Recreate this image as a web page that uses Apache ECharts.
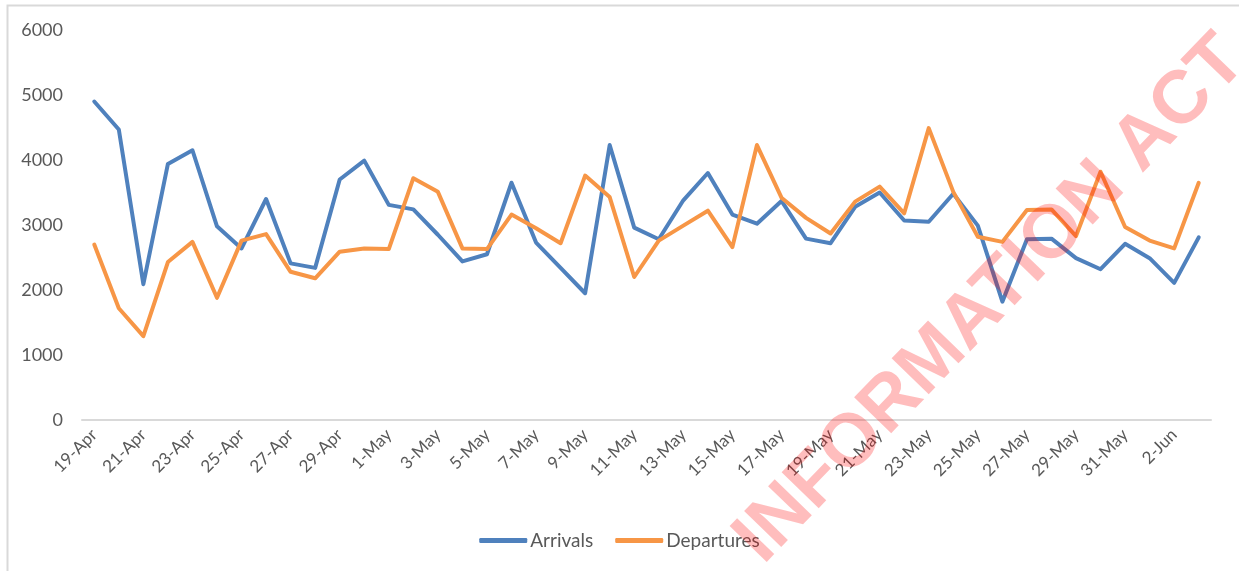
<!DOCTYPE html>
<html>
<head>
<meta charset="utf-8">
<script src="https://cdn.jsdelivr.net/npm/echarts@6/dist/echarts.min.js"></script>
<style>
  html, body { margin: 0; padding: 0; background: #fff; }
  #chart { width: 1239px; height: 571px; }
</style>
</head>
<body>
<div id="chart"></div>
<script>
// dates, 19-Apr .. 3-Jun
var days = [
  '19-Apr', '20-Apr', '21-Apr', '22-Apr', '23-Apr', '24-Apr', '25-Apr', '26-Apr',
  '27-Apr', '28-Apr', '29-Apr', '30-Apr', '1-May', '2-May', '3-May', '4-May',
  '5-May', '6-May', '7-May', '8-May', '9-May', '10-May', '11-May', '12-May',
  '13-May', '14-May', '15-May', '16-May', '17-May', '18-May', '19-May', '20-May',
  '21-May', '22-May', '23-May', '24-May', '25-May', '26-May', '27-May', '28-May',
  '29-May', '30-May', '31-May', '1-Jun', '2-Jun', '3-Jun'
]
var arrivals = [
  4900, 4470, 2090, 3940, 4150, 2980, 2640, 3400,
  2410, 2340, 3700, 3990, 3310, 3240, 2850, 2440,
  2550, 3650, 2730, 2340, 1950, 4230, 2960, 2780,
  3380, 3800, 3160, 3020, 3370, 2790, 2720, 3280,
  3500, 3070, 3050, 3480, 2990, 1820, 2780, 2790,
  2490, 2320, 2710, 2490, 2110, 2810
]
var departures = [
  2700, 1720, 1290, 2430, 2740, 1880, 2760, 2860,
  2280, 2180, 2590, 2640, 2630, 3720, 3510, 2640,
  2630, 3160, 2950, 2720, 3760, 3430, 2200, 2760,
  2990, 3220, 2660, 4230, 3420, 3110, 2870, 3360,
  3590, 3180, 4490, 3510, 2820, 2740, 3230, 3240,
  2830, 3820, 2970, 2760, 2640, 3650
]
var yTicks = [0, 1000, 2000, 3000, 4000, 5000, 6000]

var font = 'Lato'
var chart = echarts.init(document.getElementById('chart'))
var option = {
  animation: false,
  textStyle: { fontFamily: font },
  grid: { left: 82, right: 28, top: 30, bottom: 151 },
  legend: {
    data: ['Arrivals', 'Departures'],
    bottom: 16,
    left: 'center',
    icon: 'roundRect',
    itemWidth: 48,
    itemHeight: 5,
    itemGap: 22,
    textStyle: { color: '#595959', fontSize: 19, fontFamily: font, padding: [0, 0, 0, -2] }
  },
  xAxis: {
    type: 'category',
    data: days,
    boundaryGap: true,
    axisLine: { lineStyle: { color: '#d9d9d9', width: 2 } },
    axisTick: { show: false },
    axisLabel: {
      interval: 1,
      rotate: 45,
      margin: 12,
      color: '#595959',
      fontSize: 17,
      fontFamily: font
    }
  },
  yAxis: {
    type: 'value',
    min: yTicks[0],
    max: yTicks[yTicks.length - 1],
    interval: 1000,
    axisLine: { show: false },
    axisTick: { show: false },
    splitLine: { show: false },
    axisLabel: {
      color: '#595959',
      fontSize: 18,
      margin: 19,
      fontFamily: font,
      formatter: function(v) { return String(v) }
    }
  },
  series: [
    {
      name: 'Arrivals',
      type: 'line',
      data: arrivals,
      symbol: 'none',
      itemStyle: { color: '#4F81BD' },
      lineStyle: { color: '#4F81BD', width: 4, cap: 'round', join: 'round' }
    },
    {
      name: 'Departures',
      type: 'line',
      data: departures,
      symbol: 'none',
      itemStyle: { color: '#F79646' },
      lineStyle: { color: '#F79646', width: 4, cap: 'round', join: 'round' }
    }
  ],
  graphic: [
    {
      type: 'rect',
      left: 5,
      top: 3,
      silent: true,
      shape: { width: 1250, height: 600 },
      style: { fill: 'none', stroke: '#d9d9d9', lineWidth: 2 }
    },
    {
      // watermark from the scanned page
      type: 'text',
      x: 991,
      y: 300,
      rotation: 46 * Math.PI / 180,
      z: 100,
      silent: true,
      style: {
        text: 'INFORMATION ACT',
        fill: 'rgba(255,0,0,0.26)',
        font: 'bold 75px "Liberation Sans", Arial, sans-serif',
        align: 'center',
        verticalAlign: 'middle'
      }
    }
  ]
}
chart.setOption(option)
</script>
</body>
</html>
